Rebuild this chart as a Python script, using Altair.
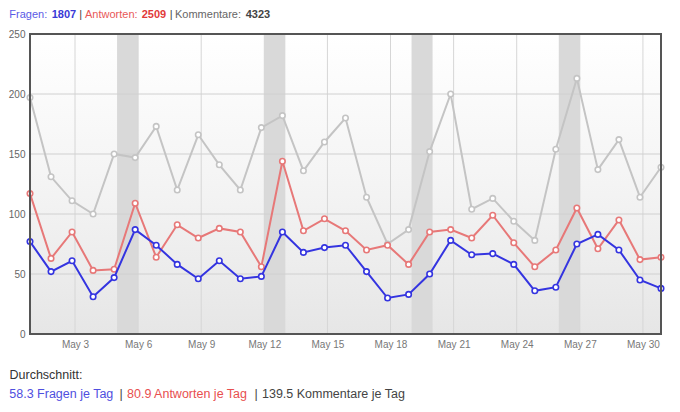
import altair as alt
import pandas as pd

# ---- data ----
days = list(range(1, 32))
fragen = [77, 52, 61, 31, 47, 87, 74, 58, 46, 61,
          46, 48, 85, 68, 72, 74, 52, 30, 33, 50,
          78, 66, 67, 58, 36, 39, 75, 83, 70, 45, 38]
antworten = [117, 63, 85, 53, 54, 109, 64, 91, 80, 88,
             85, 56, 144, 86, 96, 86, 70, 74, 58, 85,
             87, 80, 99, 76, 56, 70, 105, 71, 95, 62, 64]
kommentare = [197, 131, 111, 100, 150, 147, 173, 120, 166, 141,
              120, 172, 182, 136, 160, 180, 114, 75, 87, 152,
              200, 104, 113, 94, 78, 154, 213, 137, 162, 114, 139]
shaded_days = [5, 12, 19, 26]
tick_days = [3, 6, 9, 12, 15, 18, 21, 24, 27, 30]
y_ticks = [0, 50, 100, 150, 200, 250]
y_grid = [50, 100, 150, 200]

totals = {"Fragen": 1807, "Antworten": 2509, "Kommentare": 4323}
averages = {"Fragen": 58.3, "Antworten": 80.9, "Kommentare": 139.5}

# ---- style ----
OFF = 0.14  # day offset of grid/bands relative to points
BLUE, RED, GREY = "#3434e0", "#e77878", "#c4c4c4"
FONT = "Liberation Sans"

xs = alt.Scale(domain=[1, 31], nice=False, zero=False)
ys = alt.Scale(domain=[0, 250], nice=False, zero=False)

XAX = alt.Axis(values=[d + OFF for d in tick_days],
               labelExpr="'May ' + floor(datum.value)",
               ticks=False, domain=False, grid=False,
               labelColor="#777777", labelFontSize=10,
               labelPadding=5, labelFont=FONT)
YAX = alt.Axis(values=y_ticks, ticks=False, domain=False,
               grid=False, labelColor="#666666", labelFontSize=10,
               labelPadding=5, labelFont=FONT)


def X(f):
    return alt.X(f, scale=xs, axis=XAX, title=None)


def Y(f):
    return alt.Y(f, scale=ys, axis=YAX, title=None)


one = pd.DataFrame({"k": [0]})

bg = alt.Chart(one).mark_rect(
    fill=alt.LinearGradient(
        gradient="linear",
        stops=[alt.GradientStop(color="#ffffff", offset=0),
               alt.GradientStop(color="#f4f4f4", offset=0.5),
               alt.GradientStop(color="#e6e6e6", offset=1)],
        x1=0, x2=0, y1=0, y2=1),
).encode(x=alt.value(0), x2=alt.value(631), y=alt.value(0), y2=alt.value(300))

band_df = pd.DataFrame({"d": shaded_days})
bands = alt.Chart(band_df).transform_calculate(
    s=f"datum.d + {OFF}", e=f"datum.d + 1 + {OFF}"
).mark_rect(color="#d9d9d9").encode(
    x=X("s:Q"), x2="e:Q", y=alt.value(0), y2=alt.value(300))

vgrid = alt.Chart(pd.DataFrame({"d": tick_days})).transform_calculate(
    p=f"datum.d + {OFF}"
).mark_rule(color="#d6d6d6", strokeWidth=1).encode(x=X("p:Q"))

hgrid = alt.Chart(pd.DataFrame({"v": y_grid})).mark_rule(
    color="#d0d0d0", strokeWidth=1).encode(y=Y("v:Q"))


def series(vals, color):
    df = pd.DataFrame({"day": days, "v": vals})
    base = alt.Chart(df).encode(x=X("day:Q"), y=Y("v:Q"))
    line = base.mark_line(color=color, strokeWidth=2)
    pts = base.mark_point(filled=True, fill="white", stroke=color,
                          strokeWidth=1.6, size=30, opacity=1)
    return [line, pts]


frame = alt.Chart(one).mark_rect(
    fillOpacity=0, stroke="#555555", strokeWidth=2
).encode(x=alt.value(0), x2=alt.value(631), y=alt.value(0), y2=alt.value(300))


def txt(s, x, y, color, size, bold=False):
    return alt.Chart(one).mark_text(
        align="left", baseline="alphabetic",
        color=color, fontSize=size, font=FONT,
        fontWeight="bold" if bold else "normal",
    ).encode(x=alt.value(x), y=alt.value(y), text=alt.value(s))


texts = [
    txt("Fragen:", -20.7, -16.5, "#5a5ae6", 11),
    txt(str(totals["Fragen"]), 21.7, -16.5, "#3a3ad6", 11, True),
    txt("|", 49.3, -16.5, "#444444", 11),
    txt("Antworten:", 55, -16.5, "#e85858", 11),
    txt(str(totals["Antworten"]), 111.7, -16.5, "#e23a3a", 11, True),
    txt("|", 139.7, -16.5, "#444444", 11),
    txt("Kommentare:", 145, -16.5, "#666666", 11),
    txt(str(totals["Kommentare"]), 215.7, -16.5, "#444444", 11, True),
    txt("Durchschnitt:", -20.5, 345, "#333333", 12.5),
    txt(f"{averages['Fragen']} Fragen je Tag", -20.7, 363.5, "#4f4fe0", 12.5),
    txt("|", 89.5, 363.5, "#444444", 12.5),
    txt(f"{averages['Antworten']} Antworten je Tag", 97, 363.5, "#e84f4f", 12.5),
    txt("|", 224.5, 363.5, "#444444", 12.5),
    txt(f"{averages['Kommentare']} Kommentare je Tag", 232, 363.5, "#444444", 12.5),
]

layers = [bg, bands, vgrid, hgrid]
layers += series(kommentare, GREY)
layers += series(antworten, RED)
layers += series(fragen, BLUE)
layers += [frame]
layers += texts

chart = alt.layer(*layers).properties(
    width=631, height=300,
    padding={"left": 22, "top": 26, "right": 11, "bottom": 70},
    autosize=alt.AutoSizeParams(type="none"),
).configure_view(stroke=None).configure(font=FONT)

chart.save("out.html", embed_options={"renderer": "svg", "actions": False})
